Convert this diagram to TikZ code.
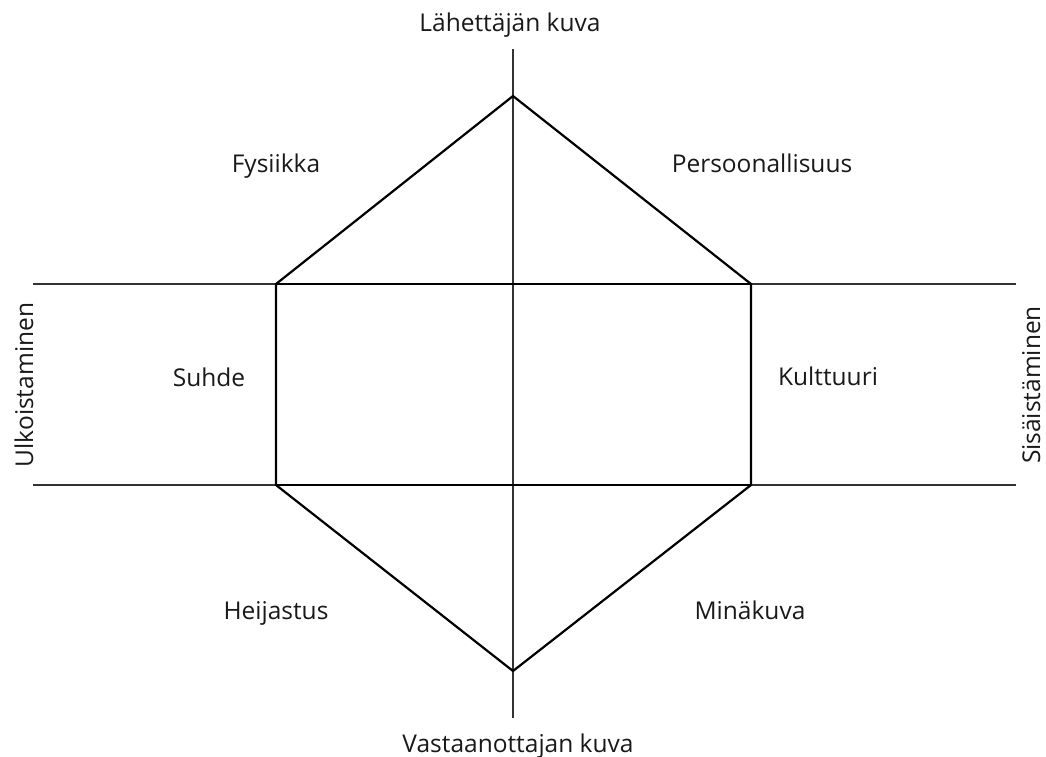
\documentclass[tikz,border=0pt]{standalone}
\usepackage{fontspec}
\setmainfont{Open Sans}
\begin{document}
\begin{tikzpicture}[x=1pt,y=-1pt,
  axis/.style={line width=1.2pt, black!80},
  hexline/.style={line width=2.2pt, black},
  lbl/.style={font=\fontsize{24.5}{28}\selectfont, text=black!90, inner sep=0pt, anchor=base}]
\useasboundingbox (0,0) rectangle (1046,756);
\coordinate (vt) at (513,49);
\coordinate (vb) at (513,718);
\coordinate (hl1) at (33,284);
\coordinate (hr1) at (1016,284);
\coordinate (hl2) at (33,485);
\coordinate (hr2) at (1016,485);
\coordinate (top) at (513,96);
\coordinate (bot) at (513,671);
\coordinate (tl) at (276,284);
\coordinate (tr) at (751,284);
\coordinate (bl) at (276,485);
\coordinate (br) at (751,485);
\draw[axis] (vt) -- (vb);
\draw[axis] (hl1) -- (hr1);
\draw[axis] (hl2) -- (hr2);
\draw[hexline, line join=miter] (tl) -- (top) -- (tr) -- (br) -- (bot) -- (bl) -- cycle;
\draw[hexline] (tl) -- (tr);
\draw[hexline] (bl) -- (br);
\node[lbl] (n1) at (510,31) {Lähettäjän kuva};
\node[lbl] (n2) at (518,752) {Vastaanottajan kuva};
\node[lbl] (n3) at (276,172) {Fysiikka};
\node[lbl] (n4) at (762,172) {Persoonallisuus};
\node[lbl] (n5) at (209,386) {Suhde};
\node[lbl] (n6) at (828,385) {Kulttuuri};
\node[lbl] (n7) at (276,619) {Heijastus};
\node[lbl] (n8) at (750,619) {Minäkuva};
\node[lbl, rotate=90] (n9) at (33,385) {Ulkoistaminen};
\node[lbl, rotate=90] (n10) at (1040,385) {Sisäistäminen};
\end{tikzpicture}
\end{document}
